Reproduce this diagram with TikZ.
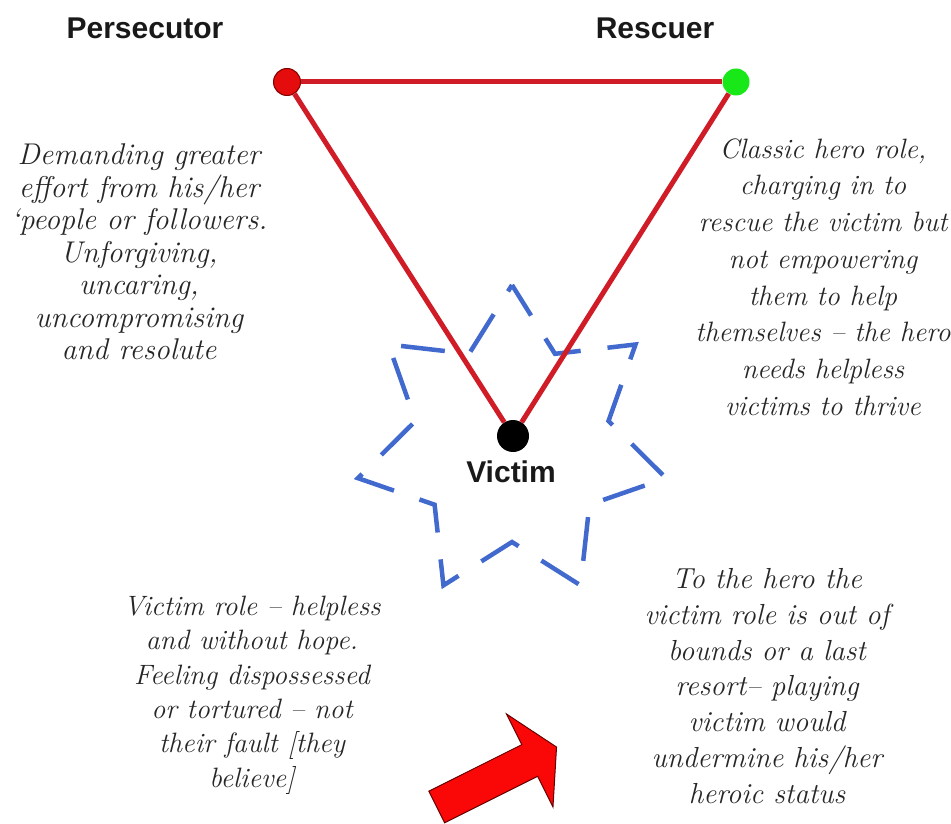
\documentclass[tikz,border=0pt]{standalone}
\usepackage{fontspec}
\newfontfamily\labelfont{Liberation Sans}
\definecolor{edgered}{RGB}{208,28,38}
\definecolor{dotred}{RGB}{228,12,12}
\definecolor{dotgreen}{RGB}{24,232,24}
\definecolor{starblue}{RGB}{66,106,206}
\definecolor{arrowred}{RGB}{250,8,8}
\definecolor{inkgray}{RGB}{38,38,38}
\begin{document}
\begin{tikzpicture}[x=1pt,y=-1pt,
  rolelabel/.style={font=\labelfont\bfseries\fontsize{30}{36}\selectfont, inner sep=0pt, text=black!90},
  note/.style={align=center, inner sep=0pt, text=inkgray},
  dot/.style={circle, inner sep=0pt, minimum size=#1},
  edge/.style={draw=edgered, line width=5pt},
  starline/.style={draw=starblue, line width=4.5pt, dash pattern=on 44pt off 27pt, dash phase=8pt},
  bigarrow/.style={fill=arrowred, draw=black!60!red, line width=1pt, line join=miter}]
\useasboundingbox (0,0) rectangle (951,824);
% star
\draw[starline] (512,285)
  \foreach \a/\rr in {-64.286/99,-38.571/158,-12.857/99,12.857/158,38.571/99,64.286/158,90/99,115.714/158,141.429/99,167.143/158,192.857/99,218.571/158,244.286/99}
  { -- ({512+\rr*cos(\a)},{443+\rr*sin(\a)}) } -- cycle;
% dots
\node[dot=27pt, fill=dotred, draw=black!50!red, line width=1pt] (P) at (287,82) {};
\node[dot=27pt, fill=dotgreen] (R) at (736,82) {};
\node[dot=32pt, fill=black] (V) at (513,436) {};
% edges
\draw[edge] (P) -- (R);
\draw[edge] (P) -- (V);
\draw[edge] (R) -- (V);
% labels
\node[rolelabel] (pl) at (145,28) {Persecutor};
\node[rolelabel] (rl) at (655,28) {Rescuer};
\node[rolelabel] (vl) at (511,472) {Victim};
% notes
\node[note, font=\itshape\fontsize{30}{32.5}\selectfont] (pn) at (139,252)
 {Demanding greater\\effort from his/her\\`people or followers.\\Unforgiving,\\uncaring,\\uncompromising\\and resolute};
\node[note, font=\itshape\fontsize{28}{36.7}\selectfont] (rn) at (823,277)
 {Classic hero role,\\charging in to\\rescue the victim but\\not empowering\\them to help\\themselves -- the hero\\needs helpless\\victims to thrive};
\node[note, font=\itshape\fontsize{28}{34.4}\selectfont] (vn) at (252,695)
 {Victim role -- helpless\\and without hope.\\Feeling dispossessed\\or tortured -- not\\their fault [they\\believe]};
\node[note, font=\itshape\fontsize{29}{35.8}\selectfont] (hn) at (767,686)
 {To the hero the\\victim role is out of\\bounds or a last\\resort-- playing\\victim would\\undermine his/her\\heroic status};
% arrow
\begin{scope}[shift={(436.7,807)}, rotate=26.57]
\path[bigarrow] (0,-17.7) -- (104,-17.7) -- (104,-52) -- (134,0) -- (104,52) -- (104,17.7) -- (0,17.7) -- cycle;
\end{scope}
\end{tikzpicture}
\end{document}
